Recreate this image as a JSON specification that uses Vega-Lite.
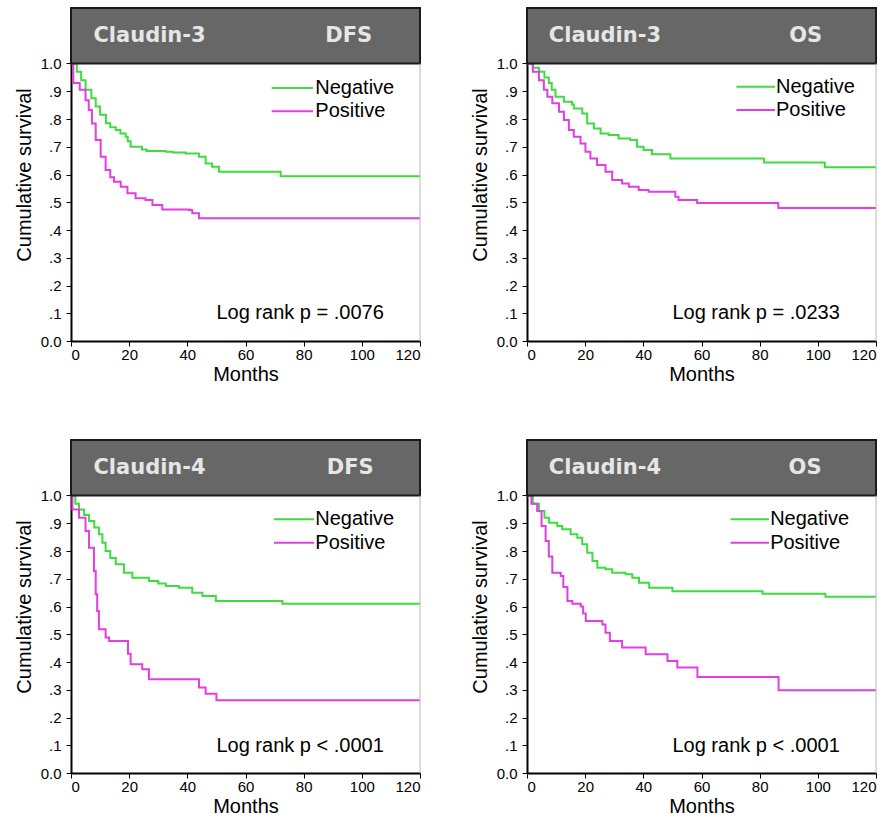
{
  "$schema": "https://vega.github.io/schema/vega-lite/v6.json",
  "background": "white",
  "padding": {"left": 14, "top": 7, "right": 4, "bottom": 2},
  "config": {
    "view": {"stroke": null},
    "axis": {"domainColor": "#000", "domainWidth": 2, "tickColor": "#000", "tickSize": 5, "labelFont": "Liberation Sans", "labelFontSize": 15, "labelColor": "#000", "labelOverlap": false, "titleFont": "Liberation Sans", "titleFontSize": 20, "titleFontWeight": "normal", "titleColor": "#000", "grid": false},
    "axisX": {"labelPadding": 1, "titlePadding": 2},
    "axisY": {"labelPadding": 5, "titlePadding": 6}
  },
  "datasets": {
    "km": [
      {"p":"C3DFS","g":"Negative","m":0,"s":1},{"p":"C3DFS","g":"Negative","m":2,"s":0.97},{"p":"C3DFS","g":"Negative","m":3.5,"s":0.94},{"p":"C3DFS","g":"Negative","m":5,"s":0.905},{"p":"C3DFS","g":"Negative","m":7,"s":0.875},{"p":"C3DFS","g":"Negative","m":8.5,"s":0.845},{"p":"C3DFS","g":"Negative","m":10,"s":0.815},{"p":"C3DFS","g":"Negative","m":12,"s":0.785},{"p":"C3DFS","g":"Negative","m":13.5,"s":0.77},{"p":"C3DFS","g":"Negative","m":15.4,"s":0.76},{"p":"C3DFS","g":"Negative","m":17,"s":0.748},{"p":"C3DFS","g":"Negative","m":18.8,"s":0.736},{"p":"C3DFS","g":"Negative","m":19.5,"s":0.72},{"p":"C3DFS","g":"Negative","m":20.5,"s":0.7},{"p":"C3DFS","g":"Negative","m":24.4,"s":0.69},{"p":"C3DFS","g":"Negative","m":26,"s":0.685},{"p":"C3DFS","g":"Negative","m":32.6,"s":0.682},{"p":"C3DFS","g":"Negative","m":35,"s":0.679},{"p":"C3DFS","g":"Negative","m":39.4,"s":0.676},{"p":"C3DFS","g":"Negative","m":44,"s":0.664},{"p":"C3DFS","g":"Negative","m":46.3,"s":0.64},{"p":"C3DFS","g":"Negative","m":48.5,"s":0.628},{"p":"C3DFS","g":"Negative","m":50.9,"s":0.61},{"p":"C3DFS","g":"Negative","m":72.1,"s":0.594},{"p":"C3DFS","g":"Negative","m":120,"s":0.594},
      {"p":"C3DFS","g":"Positive","m":0,"s":1},{"p":"C3DFS","g":"Positive","m":0.8,"s":0.93},{"p":"C3DFS","g":"Positive","m":3,"s":0.905},{"p":"C3DFS","g":"Positive","m":5,"s":0.868},{"p":"C3DFS","g":"Positive","m":6.1,"s":0.832},{"p":"C3DFS","g":"Positive","m":7.2,"s":0.784},{"p":"C3DFS","g":"Positive","m":8.5,"s":0.724},{"p":"C3DFS","g":"Positive","m":10.2,"s":0.664},{"p":"C3DFS","g":"Positive","m":11.9,"s":0.616},{"p":"C3DFS","g":"Positive","m":13.5,"s":0.59},{"p":"C3DFS","g":"Positive","m":14.8,"s":0.574},{"p":"C3DFS","g":"Positive","m":17.1,"s":0.556},{"p":"C3DFS","g":"Positive","m":19.4,"s":0.532},{"p":"C3DFS","g":"Positive","m":22.2,"s":0.514},{"p":"C3DFS","g":"Positive","m":25.6,"s":0.508},{"p":"C3DFS","g":"Positive","m":28,"s":0.49},{"p":"C3DFS","g":"Positive","m":31.4,"s":0.474},{"p":"C3DFS","g":"Positive","m":40.6,"s":0.472},{"p":"C3DFS","g":"Positive","m":41.7,"s":0.46},{"p":"C3DFS","g":"Positive","m":44,"s":0.442},{"p":"C3DFS","g":"Positive","m":120,"s":0.442},
      {"p":"C3OS","g":"Negative","m":0,"s":1},{"p":"C3OS","g":"Negative","m":2,"s":0.985},{"p":"C3OS","g":"Negative","m":4.1,"s":0.97},{"p":"C3OS","g":"Negative","m":6,"s":0.95},{"p":"C3OS","g":"Negative","m":7.5,"s":0.93},{"p":"C3OS","g":"Negative","m":8.5,"s":0.905},{"p":"C3OS","g":"Negative","m":9.8,"s":0.88},{"p":"C3OS","g":"Negative","m":12.7,"s":0.862},{"p":"C3OS","g":"Negative","m":15.5,"s":0.852},{"p":"C3OS","g":"Negative","m":16.1,"s":0.838},{"p":"C3OS","g":"Negative","m":19,"s":0.82},{"p":"C3OS","g":"Negative","m":20.7,"s":0.784},{"p":"C3OS","g":"Negative","m":23,"s":0.766},{"p":"C3OS","g":"Negative","m":25.3,"s":0.748},{"p":"C3OS","g":"Negative","m":28.1,"s":0.742},{"p":"C3OS","g":"Negative","m":31.5,"s":0.73},{"p":"C3OS","g":"Negative","m":35.5,"s":0.724},{"p":"C3OS","g":"Negative","m":37.8,"s":0.7},{"p":"C3OS","g":"Negative","m":40.1,"s":0.688},{"p":"C3OS","g":"Negative","m":43,"s":0.673},{"p":"C3OS","g":"Negative","m":49.3,"s":0.658},{"p":"C3OS","g":"Negative","m":81.5,"s":0.643},{"p":"C3OS","g":"Negative","m":102.4,"s":0.626},{"p":"C3OS","g":"Negative","m":120,"s":0.626},
      {"p":"C3OS","g":"Positive","m":0,"s":1},{"p":"C3OS","g":"Positive","m":2,"s":0.97},{"p":"C3OS","g":"Positive","m":4.1,"s":0.94},{"p":"C3OS","g":"Positive","m":5.8,"s":0.905},{"p":"C3OS","g":"Positive","m":7,"s":0.88},{"p":"C3OS","g":"Positive","m":8.7,"s":0.857},{"p":"C3OS","g":"Positive","m":11,"s":0.826},{"p":"C3OS","g":"Positive","m":12.7,"s":0.796},{"p":"C3OS","g":"Positive","m":14.4,"s":0.76},{"p":"C3OS","g":"Positive","m":16.1,"s":0.736},{"p":"C3OS","g":"Positive","m":18.4,"s":0.712},{"p":"C3OS","g":"Positive","m":20.1,"s":0.682},{"p":"C3OS","g":"Positive","m":21.8,"s":0.658},{"p":"C3OS","g":"Positive","m":24.1,"s":0.634},{"p":"C3OS","g":"Positive","m":27,"s":0.61},{"p":"C3OS","g":"Positive","m":29.3,"s":0.58},{"p":"C3OS","g":"Positive","m":32.7,"s":0.568},{"p":"C3OS","g":"Positive","m":35,"s":0.556},{"p":"C3OS","g":"Positive","m":38.4,"s":0.544},{"p":"C3OS","g":"Positive","m":41.8,"s":0.538},{"p":"C3OS","g":"Positive","m":51,"s":0.52},{"p":"C3OS","g":"Positive","m":52.1,"s":0.508},{"p":"C3OS","g":"Positive","m":58.5,"s":0.497},{"p":"C3OS","g":"Positive","m":86.4,"s":0.479},{"p":"C3OS","g":"Positive","m":120,"s":0.479},
      {"p":"C4DFS","g":"Negative","m":0,"s":1},{"p":"C4DFS","g":"Negative","m":1.5,"s":0.97},{"p":"C4DFS","g":"Negative","m":2.75,"s":0.95},{"p":"C4DFS","g":"Negative","m":4.5,"s":0.93},{"p":"C4DFS","g":"Negative","m":6.2,"s":0.908},{"p":"C4DFS","g":"Negative","m":8,"s":0.885},{"p":"C4DFS","g":"Negative","m":9.6,"s":0.86},{"p":"C4DFS","g":"Negative","m":10.8,"s":0.83},{"p":"C4DFS","g":"Negative","m":11.9,"s":0.8},{"p":"C4DFS","g":"Negative","m":13.5,"s":0.775},{"p":"C4DFS","g":"Negative","m":15.4,"s":0.752},{"p":"C4DFS","g":"Negative","m":18.2,"s":0.722},{"p":"C4DFS","g":"Negative","m":21.1,"s":0.704},{"p":"C4DFS","g":"Negative","m":26.8,"s":0.692},{"p":"C4DFS","g":"Negative","m":30,"s":0.683},{"p":"C4DFS","g":"Negative","m":32.6,"s":0.674},{"p":"C4DFS","g":"Negative","m":37.1,"s":0.668},{"p":"C4DFS","g":"Negative","m":41.7,"s":0.65},{"p":"C4DFS","g":"Negative","m":45.2,"s":0.638},{"p":"C4DFS","g":"Negative","m":49.8,"s":0.62},{"p":"C4DFS","g":"Negative","m":72.7,"s":0.61},{"p":"C4DFS","g":"Negative","m":120,"s":0.61},
      {"p":"C4DFS","g":"Positive","m":0,"s":1},{"p":"C4DFS","g":"Positive","m":0.5,"s":0.95},{"p":"C4DFS","g":"Positive","m":2.75,"s":0.92},{"p":"C4DFS","g":"Positive","m":5,"s":0.872},{"p":"C4DFS","g":"Positive","m":6.2,"s":0.812},{"p":"C4DFS","g":"Positive","m":7.9,"s":0.728},{"p":"C4DFS","g":"Positive","m":8.5,"s":0.644},{"p":"C4DFS","g":"Positive","m":9,"s":0.584},{"p":"C4DFS","g":"Positive","m":9.6,"s":0.518},{"p":"C4DFS","g":"Positive","m":11.9,"s":0.488},{"p":"C4DFS","g":"Positive","m":13.1,"s":0.476},{"p":"C4DFS","g":"Positive","m":19.6,"s":0.43},{"p":"C4DFS","g":"Positive","m":20.5,"s":0.392},{"p":"C4DFS","g":"Positive","m":24.5,"s":0.374},{"p":"C4DFS","g":"Positive","m":26.8,"s":0.338},{"p":"C4DFS","g":"Positive","m":44,"s":0.308},{"p":"C4DFS","g":"Positive","m":46.3,"s":0.286},{"p":"C4DFS","g":"Positive","m":50,"s":0.262},{"p":"C4DFS","g":"Positive","m":120,"s":0.262},
      {"p":"C4OS","g":"Negative","m":0,"s":1},{"p":"C4OS","g":"Negative","m":2,"s":0.97},{"p":"C4OS","g":"Negative","m":4.1,"s":0.944},{"p":"C4OS","g":"Negative","m":6,"s":0.92},{"p":"C4OS","g":"Negative","m":7.6,"s":0.902},{"p":"C4OS","g":"Negative","m":10.4,"s":0.89},{"p":"C4OS","g":"Negative","m":12.1,"s":0.878},{"p":"C4OS","g":"Negative","m":15,"s":0.86},{"p":"C4OS","g":"Negative","m":17.3,"s":0.848},{"p":"C4OS","g":"Negative","m":19,"s":0.824},{"p":"C4OS","g":"Negative","m":20.7,"s":0.794},{"p":"C4OS","g":"Negative","m":22.5,"s":0.764},{"p":"C4OS","g":"Negative","m":24.2,"s":0.74},{"p":"C4OS","g":"Negative","m":27,"s":0.734},{"p":"C4OS","g":"Negative","m":29.3,"s":0.722},{"p":"C4OS","g":"Negative","m":33.9,"s":0.716},{"p":"C4OS","g":"Negative","m":36.2,"s":0.704},{"p":"C4OS","g":"Negative","m":38.5,"s":0.686},{"p":"C4OS","g":"Negative","m":42,"s":0.668},{"p":"C4OS","g":"Negative","m":50,"s":0.655},{"p":"C4OS","g":"Negative","m":81,"s":0.646},{"p":"C4OS","g":"Negative","m":102.6,"s":0.635},{"p":"C4OS","g":"Negative","m":120,"s":0.635},
      {"p":"C4OS","g":"Positive","m":0,"s":1},{"p":"C4OS","g":"Positive","m":1.5,"s":0.97},{"p":"C4OS","g":"Positive","m":3.5,"s":0.944},{"p":"C4OS","g":"Positive","m":5,"s":0.89},{"p":"C4OS","g":"Positive","m":6.4,"s":0.836},{"p":"C4OS","g":"Positive","m":7.5,"s":0.78},{"p":"C4OS","g":"Positive","m":8.7,"s":0.722},{"p":"C4OS","g":"Positive","m":11.6,"s":0.71},{"p":"C4OS","g":"Positive","m":12.5,"s":0.67},{"p":"C4OS","g":"Positive","m":13.9,"s":0.62},{"p":"C4OS","g":"Positive","m":15.6,"s":0.61},{"p":"C4OS","g":"Positive","m":18.5,"s":0.6},{"p":"C4OS","g":"Positive","m":19.3,"s":0.575},{"p":"C4OS","g":"Positive","m":20.2,"s":0.548},{"p":"C4OS","g":"Positive","m":25.9,"s":0.535},{"p":"C4OS","g":"Positive","m":27,"s":0.505},{"p":"C4OS","g":"Positive","m":28.5,"s":0.476},{"p":"C4OS","g":"Positive","m":32.7,"s":0.452},{"p":"C4OS","g":"Positive","m":40.8,"s":0.428},{"p":"C4OS","g":"Positive","m":48.3,"s":0.404},{"p":"C4OS","g":"Positive","m":51.7,"s":0.38},{"p":"C4OS","g":"Positive","m":58.6,"s":0.346},{"p":"C4OS","g":"Positive","m":86.5,"s":0.298},{"p":"C4OS","g":"Positive","m":120,"s":0.298}
    ]
  },
  "bounds": "flush",
  "columns": 2,
  "spacing": {"row": 99, "column": 107},
  "concat": [
    {
      "width": 349, "height": 333,
      "layer": [
        {"data": {"name": "km"}, "transform": [{"filter": "datum.p == 'C3DFS'"}],
         "mark": {"type": "line", "interpolate": "step-after", "strokeWidth": 2},
         "encoding": {
           "x": {"field": "m", "type": "quantitative", "scale": {"domain": [0, 120], "nice": false, "zero": true}, "axis": {"values": [0, 20, 40, 60, 80, 100, 120], "tickCount": 12, "title": "Months", "labelFlush": true, "labelOverlap": false}},
           "y": {"field": "s", "type": "quantitative", "scale": {"domain": [0, 1.2], "nice": false, "zero": true}, "axis": {"values": [0, 0.1, 0.2, 0.3, 0.4, 0.5, 0.6, 0.7, 0.8, 0.9, 1], "tickCount": 20, "title": "Cumulative survival", "labelFlush": false, "labelOverlap": false, "labelExpr": "datum.value == 1 ? '1.0' : datum.value == 0 ? '0.0' : '.' + round(datum.value * 10)"}},
           "color": {"field": "g", "type": "nominal", "scale": {"domain": ["Negative", "Positive"], "range": ["#3fdc3f", "#e23ee2"]}, "legend": null}
         }},
        {"data": {"values": [{}]}, "mark": {"type": "rect", "fill": "#676767", "stroke": "#1a1a1a", "strokeWidth": 2},
         "encoding": {"x": {"datum": 0, "type": "quantitative"}, "x2": {"datum": 120}, "y": {"datum": 1, "type": "quantitative"}, "y2": {"datum": 1.2}}},
        {"data": {"values": [{}]}, "mark": {"type": "rule", "color": "#b8b8b8", "strokeWidth": 1}, "encoding": {"x": {"datum": 120, "type": "quantitative"}, "y": {"datum": 0, "type": "quantitative"}, "y2": {"datum": 1}}},
        {"data": {"values": [{}]}, "mark": {"type": "text", "text": "Claudin-3", "align": "left", "baseline": "middle", "font": "DejaVu Sans", "fontWeight": "bold", "fontSize": 21, "color": "#e6e6e6"}, "encoding": {"x": {"datum": 7.7, "type": "quantitative"}, "y": {"datum": 1.1, "type": "quantitative"}}},
        {"data": {"values": [{}]}, "mark": {"type": "text", "text": "DFS", "align": "center", "baseline": "middle", "font": "DejaVu Sans", "fontWeight": "bold", "fontSize": 21, "color": "#e6e6e6"}, "encoding": {"x": {"datum": 95.5, "type": "quantitative"}, "y": {"datum": 1.1, "type": "quantitative"}}},
        {"data": {"values": [{}]}, "mark": {"type": "rule", "color": "#3fdc3f", "strokeWidth": 2}, "encoding": {"x": {"datum": 69, "type": "quantitative"}, "x2": {"datum": 83.2}, "y": {"datum": 0.912, "type": "quantitative"}}},
        {"data": {"values": [{}]}, "mark": {"type": "rule", "color": "#e23ee2", "strokeWidth": 2}, "encoding": {"x": {"datum": 69, "type": "quantitative"}, "x2": {"datum": 83.2}, "y": {"datum": 0.828, "type": "quantitative"}}},
        {"data": {"values": [{}]}, "mark": {"type": "text", "text": "Negative", "align": "left", "baseline": "middle", "font": "Liberation Sans", "fontSize": 20, "color": "#000"}, "encoding": {"x": {"datum": 84, "type": "quantitative"}, "y": {"datum": 0.912, "type": "quantitative"}}},
        {"data": {"values": [{}]}, "mark": {"type": "text", "text": "Positive", "align": "left", "baseline": "middle", "font": "Liberation Sans", "fontSize": 20, "color": "#000"}, "encoding": {"x": {"datum": 84, "type": "quantitative"}, "y": {"datum": 0.828, "type": "quantitative"}}},
        {"data": {"values": [{}]}, "mark": {"type": "text", "text": "Log rank p = .0076", "align": "left", "baseline": "middle", "font": "Liberation Sans", "fontSize": 20, "color": "#000"}, "encoding": {"x": {"datum": 50, "type": "quantitative"}, "y": {"datum": 0.1, "type": "quantitative"}}}
      ]
    },
    {
      "width": 349, "height": 333,
      "layer": [
        {"data": {"name": "km"}, "transform": [{"filter": "datum.p == 'C3OS'"}],
         "mark": {"type": "line", "interpolate": "step-after", "strokeWidth": 2},
         "encoding": {
           "x": {"field": "m", "type": "quantitative", "scale": {"domain": [0, 120], "nice": false, "zero": true}, "axis": {"values": [0, 20, 40, 60, 80, 100, 120], "tickCount": 12, "title": "Months", "labelFlush": true, "labelOverlap": false}},
           "y": {"field": "s", "type": "quantitative", "scale": {"domain": [0, 1.2], "nice": false, "zero": true}, "axis": {"values": [0, 0.1, 0.2, 0.3, 0.4, 0.5, 0.6, 0.7, 0.8, 0.9, 1], "tickCount": 20, "title": "Cumulative survival", "labelFlush": false, "labelOverlap": false, "labelExpr": "datum.value == 1 ? '1.0' : datum.value == 0 ? '0.0' : '.' + round(datum.value * 10)"}},
           "color": {"field": "g", "type": "nominal", "scale": {"domain": ["Negative", "Positive"], "range": ["#3fdc3f", "#e23ee2"]}, "legend": null}
         }},
        {"data": {"values": [{}]}, "mark": {"type": "rect", "fill": "#676767", "stroke": "#1a1a1a", "strokeWidth": 2},
         "encoding": {"x": {"datum": 0, "type": "quantitative"}, "x2": {"datum": 120}, "y": {"datum": 1, "type": "quantitative"}, "y2": {"datum": 1.2}}},
        {"data": {"values": [{}]}, "mark": {"type": "rule", "color": "#b8b8b8", "strokeWidth": 1}, "encoding": {"x": {"datum": 120, "type": "quantitative"}, "y": {"datum": 0, "type": "quantitative"}, "y2": {"datum": 1}}},
        {"data": {"values": [{}]}, "mark": {"type": "text", "text": "Claudin-3", "align": "left", "baseline": "middle", "font": "DejaVu Sans", "fontWeight": "bold", "fontSize": 21, "color": "#e6e6e6"}, "encoding": {"x": {"datum": 7.5, "type": "quantitative"}, "y": {"datum": 1.1, "type": "quantitative"}}},
        {"data": {"values": [{}]}, "mark": {"type": "text", "text": "OS", "align": "center", "baseline": "middle", "font": "DejaVu Sans", "fontWeight": "bold", "fontSize": 21, "color": "#e6e6e6"}, "encoding": {"x": {"datum": 95.8, "type": "quantitative"}, "y": {"datum": 1.1, "type": "quantitative"}}},
        {"data": {"values": [{}]}, "mark": {"type": "rule", "color": "#3fdc3f", "strokeWidth": 2}, "encoding": {"x": {"datum": 72, "type": "quantitative"}, "x2": {"datum": 85.3}, "y": {"datum": 0.916, "type": "quantitative"}}},
        {"data": {"values": [{}]}, "mark": {"type": "rule", "color": "#e23ee2", "strokeWidth": 2}, "encoding": {"x": {"datum": 72, "type": "quantitative"}, "x2": {"datum": 85.3}, "y": {"datum": 0.832, "type": "quantitative"}}},
        {"data": {"values": [{}]}, "mark": {"type": "text", "text": "Negative", "align": "left", "baseline": "middle", "font": "Liberation Sans", "fontSize": 20, "color": "#000"}, "encoding": {"x": {"datum": 85.6, "type": "quantitative"}, "y": {"datum": 0.916, "type": "quantitative"}}},
        {"data": {"values": [{}]}, "mark": {"type": "text", "text": "Positive", "align": "left", "baseline": "middle", "font": "Liberation Sans", "fontSize": 20, "color": "#000"}, "encoding": {"x": {"datum": 85.6, "type": "quantitative"}, "y": {"datum": 0.832, "type": "quantitative"}}},
        {"data": {"values": [{}]}, "mark": {"type": "text", "text": "Log rank p = .0233", "align": "left", "baseline": "middle", "font": "Liberation Sans", "fontSize": 20, "color": "#000"}, "encoding": {"x": {"datum": 50, "type": "quantitative"}, "y": {"datum": 0.1, "type": "quantitative"}}}
      ]
    },
    {
      "width": 349, "height": 333,
      "layer": [
        {"data": {"name": "km"}, "transform": [{"filter": "datum.p == 'C4DFS'"}],
         "mark": {"type": "line", "interpolate": "step-after", "strokeWidth": 2},
         "encoding": {
           "x": {"field": "m", "type": "quantitative", "scale": {"domain": [0, 120], "nice": false, "zero": true}, "axis": {"values": [0, 20, 40, 60, 80, 100, 120], "tickCount": 12, "title": "Months", "labelFlush": true, "labelOverlap": false}},
           "y": {"field": "s", "type": "quantitative", "scale": {"domain": [0, 1.2], "nice": false, "zero": true}, "axis": {"values": [0, 0.1, 0.2, 0.3, 0.4, 0.5, 0.6, 0.7, 0.8, 0.9, 1], "tickCount": 20, "title": "Cumulative survival", "labelFlush": false, "labelOverlap": false, "labelExpr": "datum.value == 1 ? '1.0' : datum.value == 0 ? '0.0' : '.' + round(datum.value * 10)"}},
           "color": {"field": "g", "type": "nominal", "scale": {"domain": ["Negative", "Positive"], "range": ["#3fdc3f", "#e23ee2"]}, "legend": null}
         }},
        {"data": {"values": [{}]}, "mark": {"type": "rect", "fill": "#676767", "stroke": "#1a1a1a", "strokeWidth": 2},
         "encoding": {"x": {"datum": 0, "type": "quantitative"}, "x2": {"datum": 120}, "y": {"datum": 1, "type": "quantitative"}, "y2": {"datum": 1.2}}},
        {"data": {"values": [{}]}, "mark": {"type": "rule", "color": "#b8b8b8", "strokeWidth": 1}, "encoding": {"x": {"datum": 120, "type": "quantitative"}, "y": {"datum": 0, "type": "quantitative"}, "y2": {"datum": 1}}},
        {"data": {"values": [{}]}, "mark": {"type": "text", "text": "Claudin-4", "align": "left", "baseline": "middle", "font": "DejaVu Sans", "fontWeight": "bold", "fontSize": 21, "color": "#e6e6e6"}, "encoding": {"x": {"datum": 7.7, "type": "quantitative"}, "y": {"datum": 1.1, "type": "quantitative"}}},
        {"data": {"values": [{}]}, "mark": {"type": "text", "text": "DFS", "align": "center", "baseline": "middle", "font": "DejaVu Sans", "fontWeight": "bold", "fontSize": 21, "color": "#e6e6e6"}, "encoding": {"x": {"datum": 96, "type": "quantitative"}, "y": {"datum": 1.1, "type": "quantitative"}}},
        {"data": {"values": [{}]}, "mark": {"type": "rule", "color": "#3fdc3f", "strokeWidth": 2}, "encoding": {"x": {"datum": 69.8, "type": "quantitative"}, "x2": {"datum": 83.6}, "y": {"datum": 0.914, "type": "quantitative"}}},
        {"data": {"values": [{}]}, "mark": {"type": "rule", "color": "#e23ee2", "strokeWidth": 2}, "encoding": {"x": {"datum": 69.8, "type": "quantitative"}, "x2": {"datum": 83.6}, "y": {"datum": 0.83, "type": "quantitative"}}},
        {"data": {"values": [{}]}, "mark": {"type": "text", "text": "Negative", "align": "left", "baseline": "middle", "font": "Liberation Sans", "fontSize": 20, "color": "#000"}, "encoding": {"x": {"datum": 84, "type": "quantitative"}, "y": {"datum": 0.914, "type": "quantitative"}}},
        {"data": {"values": [{}]}, "mark": {"type": "text", "text": "Positive", "align": "left", "baseline": "middle", "font": "Liberation Sans", "fontSize": 20, "color": "#000"}, "encoding": {"x": {"datum": 84, "type": "quantitative"}, "y": {"datum": 0.83, "type": "quantitative"}}},
        {"data": {"values": [{}]}, "mark": {"type": "text", "text": "Log rank p < .0001", "align": "left", "baseline": "middle", "font": "Liberation Sans", "fontSize": 20, "color": "#000"}, "encoding": {"x": {"datum": 50, "type": "quantitative"}, "y": {"datum": 0.097, "type": "quantitative"}}}
      ]
    },
    {
      "width": 349, "height": 333,
      "layer": [
        {"data": {"name": "km"}, "transform": [{"filter": "datum.p == 'C4OS'"}],
         "mark": {"type": "line", "interpolate": "step-after", "strokeWidth": 2},
         "encoding": {
           "x": {"field": "m", "type": "quantitative", "scale": {"domain": [0, 120], "nice": false, "zero": true}, "axis": {"values": [0, 20, 40, 60, 80, 100, 120], "tickCount": 12, "title": "Months", "labelFlush": true, "labelOverlap": false}},
           "y": {"field": "s", "type": "quantitative", "scale": {"domain": [0, 1.2], "nice": false, "zero": true}, "axis": {"values": [0, 0.1, 0.2, 0.3, 0.4, 0.5, 0.6, 0.7, 0.8, 0.9, 1], "tickCount": 20, "title": "Cumulative survival", "labelFlush": false, "labelOverlap": false, "labelExpr": "datum.value == 1 ? '1.0' : datum.value == 0 ? '0.0' : '.' + round(datum.value * 10)"}},
           "color": {"field": "g", "type": "nominal", "scale": {"domain": ["Negative", "Positive"], "range": ["#3fdc3f", "#e23ee2"]}, "legend": null}
         }},
        {"data": {"values": [{}]}, "mark": {"type": "rect", "fill": "#676767", "stroke": "#1a1a1a", "strokeWidth": 2},
         "encoding": {"x": {"datum": 0, "type": "quantitative"}, "x2": {"datum": 120}, "y": {"datum": 1, "type": "quantitative"}, "y2": {"datum": 1.2}}},
        {"data": {"values": [{}]}, "mark": {"type": "rule", "color": "#b8b8b8", "strokeWidth": 1}, "encoding": {"x": {"datum": 120, "type": "quantitative"}, "y": {"datum": 0, "type": "quantitative"}, "y2": {"datum": 1}}},
        {"data": {"values": [{}]}, "mark": {"type": "text", "text": "Claudin-4", "align": "left", "baseline": "middle", "font": "DejaVu Sans", "fontWeight": "bold", "fontSize": 21, "color": "#e6e6e6"}, "encoding": {"x": {"datum": 7.5, "type": "quantitative"}, "y": {"datum": 1.1, "type": "quantitative"}}},
        {"data": {"values": [{}]}, "mark": {"type": "text", "text": "OS", "align": "center", "baseline": "middle", "font": "DejaVu Sans", "fontWeight": "bold", "fontSize": 21, "color": "#e6e6e6"}, "encoding": {"x": {"datum": 95.6, "type": "quantitative"}, "y": {"datum": 1.1, "type": "quantitative"}}},
        {"data": {"values": [{}]}, "mark": {"type": "rule", "color": "#3fdc3f", "strokeWidth": 2}, "encoding": {"x": {"datum": 70, "type": "quantitative"}, "x2": {"datum": 83.2}, "y": {"datum": 0.914, "type": "quantitative"}}},
        {"data": {"values": [{}]}, "mark": {"type": "rule", "color": "#e23ee2", "strokeWidth": 2}, "encoding": {"x": {"datum": 70, "type": "quantitative"}, "x2": {"datum": 83.2}, "y": {"datum": 0.83, "type": "quantitative"}}},
        {"data": {"values": [{}]}, "mark": {"type": "text", "text": "Negative", "align": "left", "baseline": "middle", "font": "Liberation Sans", "fontSize": 20, "color": "#000"}, "encoding": {"x": {"datum": 83.6, "type": "quantitative"}, "y": {"datum": 0.914, "type": "quantitative"}}},
        {"data": {"values": [{}]}, "mark": {"type": "text", "text": "Positive", "align": "left", "baseline": "middle", "font": "Liberation Sans", "fontSize": 20, "color": "#000"}, "encoding": {"x": {"datum": 83.6, "type": "quantitative"}, "y": {"datum": 0.83, "type": "quantitative"}}},
        {"data": {"values": [{}]}, "mark": {"type": "text", "text": "Log rank p < .0001", "align": "left", "baseline": "middle", "font": "Liberation Sans", "fontSize": 20, "color": "#000"}, "encoding": {"x": {"datum": 50, "type": "quantitative"}, "y": {"datum": 0.097, "type": "quantitative"}}}
      ]
    }
  ]
}
